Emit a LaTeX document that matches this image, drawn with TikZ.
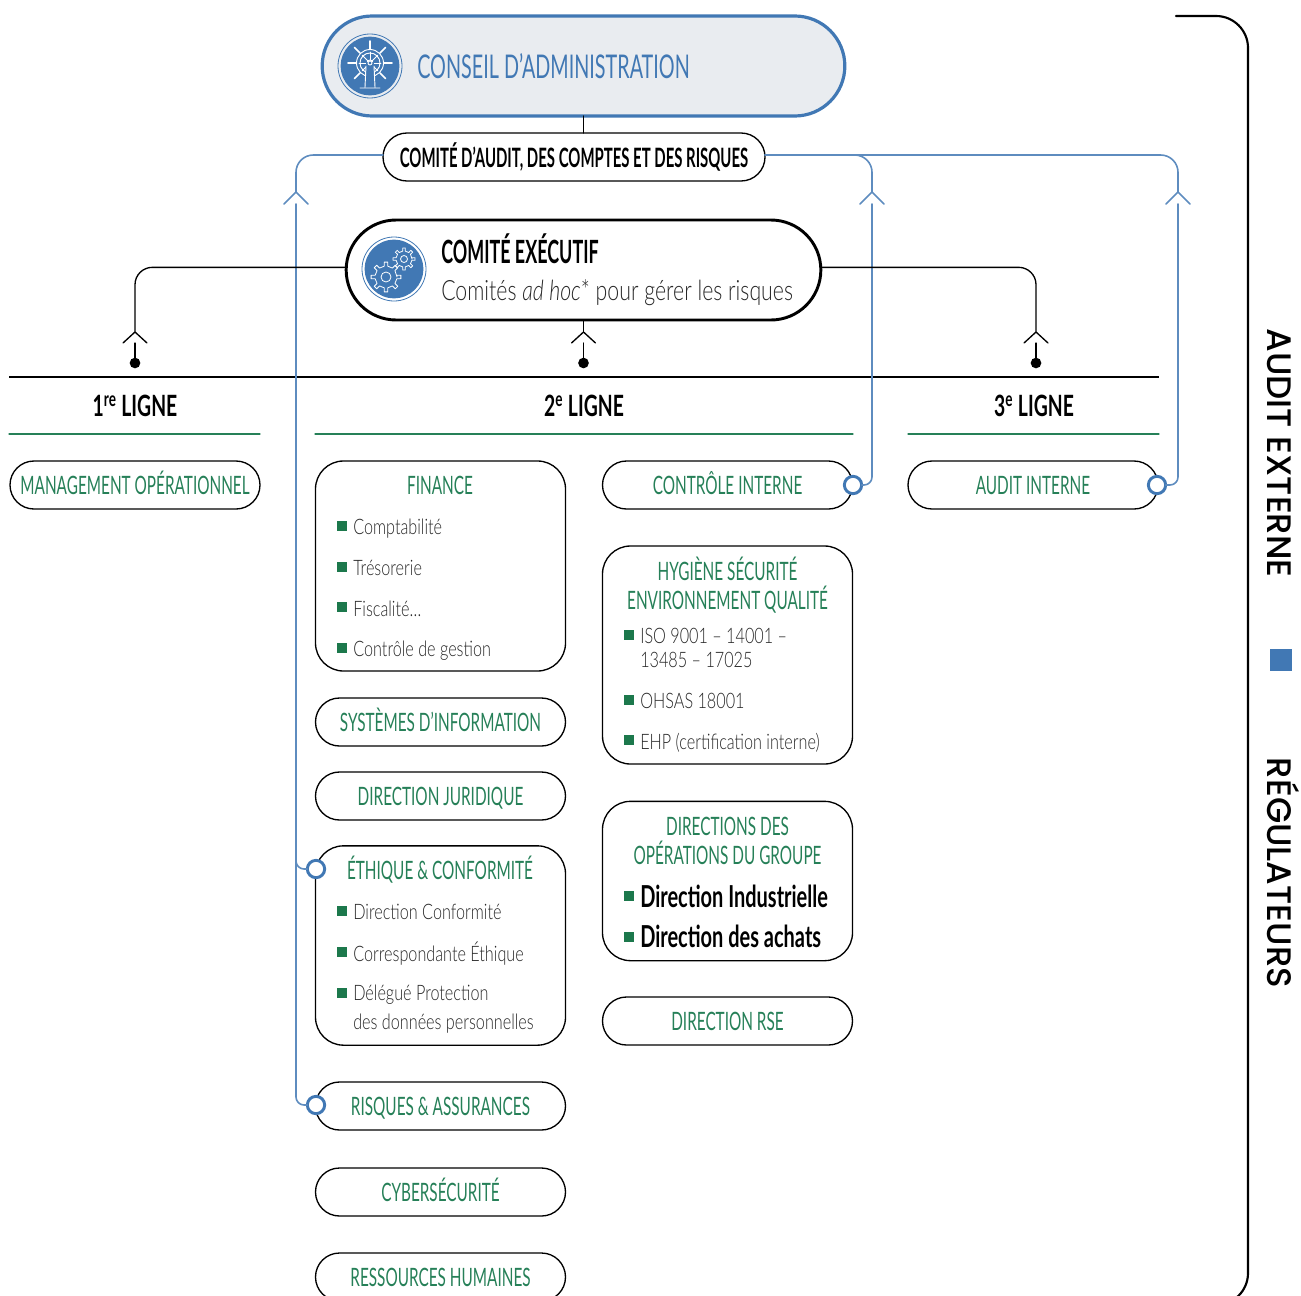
\documentclass[tikz,border=0pt]{standalone}
\usepackage{fontspec}
\setmainfont{Lato}[UprightFont=* Light,ItalicFont=* Light Italic,BoldFont=*]
\newfontfamily\fontefine[FakeStretch=0.76]{Lato}[UprightFont=* Light,ItalicFont=* Light Italic]
\newfontfamily\fontetroite[FakeStretch=0.66]{Lato}
\newfontfamily\fontevert[FakeStretch=0.605]{Lato}
\newfontfamily\fonteserree[FakeStretch=0.56]{Lato}
\newfontfamily\fontelarge{Poppins}[UprightFont=* Medium]
\definecolor{bleuligne}{RGB}{65,120,180}
\definecolor{bleufond}{RGB}{233,236,240}
\definecolor{vertligne}{RGB}{38,128,88}
\definecolor{vertpuce}{RGB}{28,120,76}
\definecolor{gristexte}{RGB}{40,40,40}
\tikzset{
  boite/.style={draw=black,line width=1pt,minimum width=187.5pt,minimum height=36pt,inner sep=0pt,outer sep=0pt,
    rounded corners=18pt,text=vertligne,text height=14pt,text depth=0pt,font=\fontevert\fontsize{19}{22}\selectfont},
  cadre/.style={boite,rounded corners=21pt},
  titrevert/.style={inner sep=0pt,align=center,text=vertligne,font=\fontevert\fontsize{19}{22}\selectfont},
  titrenoir/.style={inner sep=0pt,text=black,font=\fontetroite\bfseries\fontsize{22}{25}\selectfont},
  liste/.style={inner sep=0pt,anchor=west,align=left,text=gristexte,font=\fontefine\fontsize{16}{21.5}\selectfont},
  listegras/.style={inner sep=0pt,anchor=west,text=black,font=\fontetroite\bfseries\fontsize{22.7}{25}\selectfont},
  puce/.style={fill=vertpuce,inner sep=0pt,minimum size=7pt},
  rond/.style={circle,draw=bleuligne,fill=white,line width=2.2pt,minimum size=13pt,inner sep=0pt,outer sep=0pt},
  lien/.style={draw=black,line width=1pt,rounded corners=13pt},
  lienbleu/.style={draw=bleuligne!85,line width=1.2pt,rounded corners=13pt},
  texteregul/.style={rotate=-90,inner sep=0pt,text height=20pt,text depth=0pt,font=\fontelarge\fontsize{25.5}{30}\selectfont},
}
\begin{document}
\begin{tikzpicture}[x=0.75pt,y=-0.75pt,line cap=round,line join=round]
\useasboundingbox (0,0) rectangle (1301,1295);
\clip (0,0) rectangle (1301,1295);
% conseil et comites
\node[draw=bleuligne,fill=bleufond,line width=2.4pt,minimum width=392pt,minimum height=75pt,rounded corners=37.5pt,outer sep=0pt] (conseil) at (583.5,66) {};
\node[inner sep=0pt,anchor=west,text=bleuligne,font=\fontevert\fontsize{24.5}{28}\selectfont] (conseiltxt) at (417,66) {CONSEIL D’ADMINISTRATION};
\node[draw=black,line width=1pt,fill=white,minimum width=286.5pt,minimum height=36pt,rounded corners=18pt,inner sep=0pt,outer sep=0pt,text=black,font=\fonteserree\bfseries\fontsize{20}{24}\selectfont] (comaudit) at (574,157) {COMITÉ D’AUDIT, DES COMPTES ET DES RISQUES};
\node[draw=black,line width=2.2pt,fill=white,minimum width=356pt,minimum height=75pt,rounded corners=37.5pt,outer sep=0pt] (comex) at (583.5,270) {};
\node[titrenoir,anchor=west,font=\fonteserree\bfseries\fontsize{24}{28}\selectfont] (comextxt) at (441,249) {COMITÉ EXÉCUTIF};
\node[inner sep=0pt,anchor=west,text=gristexte,font=\fontefine\fontsize{21}{24}\selectfont] (comexsous) at (441,293) {Comités \textit{ad hoc}* pour gérer les risques};
\draw[lien] (conseil.south) -- (comaudit.north -| conseil.south);
% icone barre
\fill[bleuligne] (370,66) circle (22pt);
\draw[bleuligne,line width=0.6pt] (370,66) circle (24pt);
\begin{scope}[shift={(370,63)},draw=white,line width=0.7pt]
\draw[white] (0,0) circle (13.5) (0,0) circle (10) (0,0) circle (3);
\foreach \a in {0,45,...,315} \draw[white] (\a:3) -- (\a:11);
\foreach \a in {0,45,...,315} \draw[white,line width=1.2pt] (\a:14) -- (\a:22);
\fill[bleuligne] (-4,-1) rectangle (4,24);
\draw[white] (-4,3) -- (-5,24) (4,3) -- (5,24) (-10,25) -- (10,25) (0,0) circle (2);
\end{scope}
% icone engrenages
\fill[bleuligne] (394,269) circle (22pt);
\draw[bleuligne,line width=0.6pt] (394,269) circle (24pt);
\begin{scope}[shift={(386,277)}]
\draw[white,line width=0.6pt] (0,0) circle (5);
\draw[white,line width=0.6pt] (0:11) \foreach \a in {0,45,...,315} { -- (\a-9:11) -- (\a-7:15) -- (\a+7:15) -- (\a+9:11) } -- cycle;
\end{scope}
\begin{scope}[shift={(404,259)}]
\draw[white,line width=0.6pt] (0,0) circle (3.5);
\draw[white,line width=0.6pt] (0:8) \foreach \a in {0,45,...,315} { -- (\a-9:8) -- (\a-7:11) -- (\a+7:11) -- (\a+9:8) } -- cycle;
\end{scope}
% lignes
\draw[line width=2.2pt,line cap=butt] (9,377) -- (1159,377);
\foreach \xa/\xb in {9/260,315/853,908/1159}
\draw[vertligne,line width=0.9pt] (\xa,434) -- (\xb,434);
\node[titrenoir] (ligneun) at (135,406) {1\textsuperscript{re} LIGNE};
\node[titrenoir] (lignedeux) at (584,406) {2\textsuperscript{e} LIGNE};
\node[titrenoir] (lignetrois) at (1034,406) {3\textsuperscript{e} LIGNE};
% colonne 1 et 3
\node[boite] (management) at (135,485) {MANAGEMENT OPÉRATIONNEL};
\node[boite] (auditint) at (1033,485) {AUDIT INTERNE};
% colonne gauche
\node[cadre,minimum height=157.5pt] (finance) at (440.5,566) {};
\node[boite] (systemes) at (440.5,722) {SYSTÈMES D’INFORMATION};
\node[boite] (juridique) at (440.5,796) {DIRECTION JURIDIQUE};
\node[cadre,minimum height=149.5pt] (ethique) at (440.5,945.5) {};
\node[boite] (risques) at (440.5,1106) {RISQUES \& ASSURANCES};
\node[boite] (cyber) at (440.5,1192) {CYBERSÉCURITÉ};
\node[boite] (rh) at (440.5,1277) {RESSOURCES HUMAINES};
\node[titrevert,text height=14pt,text depth=0pt] (financetxt) at (440,485) {FINANCE};
\node[titrevert,text height=14pt,text depth=0pt] (ethiquetxt) at (440,870) {ÉTHIQUE \& CONFORMITÉ};
\node[liste] (compta) at (353,529) {Comptabilité};
\node[liste] (treso) at (353,568) {Trésorerie};
\node[liste] (fisc) at (353,609) {Fiscalité…};
\node[liste] (gestion) at (353,651) {Contrôle de gestion};
\node[liste] (dirconf) at (353,912) {Direction Conformité};
\node[liste] (correspo) at (353,954) {Correspondante Éthique};
\node[liste] (delegue) at (353,1009) {Délégué Protection\\des données personnelles};
% colonne droite
\node[boite] (controle) at (727.5,485) {CONTRÔLE INTERNE};
\node[cadre,minimum height=163.5pt] (hygiene) at (727.5,655) {};
\node[cadre,minimum height=119.5pt] (operations) at (727.5,881) {};
\node[boite] (rse) at (727.5,1021) {DIRECTION RSE};
\node[titrevert] (hygienetxt) at (727.5,585) {HYGIÈNE SÉCURITÉ\\ENVIRONNEMENT QUALITÉ};
\node[titrevert] (operationstxt) at (727.5,841) {DIRECTIONS DES\\OPÉRATIONS DU GROUPE};
\node[liste] (iso) at (640,648) {ISO 9001 – 14001 –\\[-3pt]13485 – 17025};
\node[liste] (ohsas) at (640,701) {OHSAS 18001};
\node[liste] (ehp) at (640,743) {EHP (certification interne)};
\node[listegras] (industrie) at (640,896) {Direction Industrielle};
\node[listegras] (achats) at (640,936) {Direction des achats};
\foreach \x/\y in {342/526,342/567,342/607,342/648,342/911,342/952,342/993,629/635,629/700,629/740,629/896,629/937}
\node[puce] at (\x,\y) {};
% liens bleus
\coordinate (chevg) at (296,192);
\coordinate (chevm) at (872,192);
\coordinate (chevd) at (1178,192);
\node[rond] (rondethique) at (316,869) {};
\node[rond] (rondrisques) at (316,1105) {};
\node[rond] (rondcontrole) at (853,485) {};
\node[rond] (rondaudit) at (1157,485) {};
\draw[lienbleu] ([yshift=1.5pt]comaudit.west) -| (chevg);
\draw[lienbleu] ([yshift=1.5pt]comaudit.east) -| (chevm);
\draw[lienbleu] ([yshift=1.5pt]comaudit.east) -| (chevd);
\foreach \c in {chevg,chevm,chevd}
\draw[lienbleu,sharp corners] (\c) ++(-12,12) -- (\c) -- ++(12,12);
\draw[lienbleu,rounded corners=6pt] (296,204) |- (rondrisques.west);
\draw[lienbleu,rounded corners=6pt] (296,840) |- (rondethique.west);
\draw[lienbleu,rounded corners=6pt] (872,204) |- (rondcontrole.east);
\draw[lienbleu,rounded corners=6pt] (1178,204) |- (rondaudit.east);
% liens noirs
\coordinate (chevun) at (135,332);
\coordinate (chevdeux) at (583.5,332);
\coordinate (chevtrois) at (1036,332);
\draw[lien] ([yshift=2pt]comex.west) -| (chevun);
\draw[lien] ([yshift=2pt]comex.east) -| (chevtrois);
\draw[lien] (comex.south -| chevdeux) -- (chevdeux);
\foreach \c in {chevun,chevdeux,chevtrois} {
\draw[lien,sharp corners] (\c) ++(-12,11) -- (\c) -- ++(12,11);
\draw[lien] (\c) ++(0,11) -- ++(0,20);
\fill (\c) ++(0,31) circle (4pt);
}
% audit externe
\coordinate (crochet) at (1176,16);
\draw[line width=1.6pt,rounded corners=24pt] (crochet) -- (1248,16) -- (1248,1305) -- (1176,1305);
\node[texteregul] (auditext) at (1281,453) {AUDIT EXTERNE};
\node[texteregul] (regul) at (1281,873) {RÉGULATEURS};
\node[fill=bleuligne,inner sep=0pt,minimum size=16.5pt] (carre) at (1281,660) {};
\end{tikzpicture}
\end{document}
